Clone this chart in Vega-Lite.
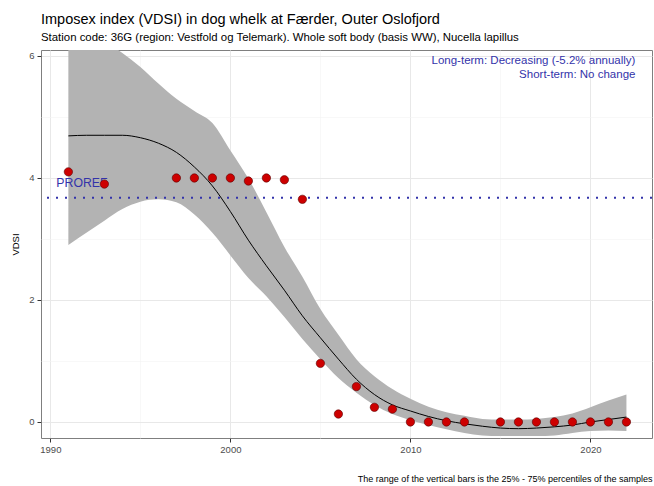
{
  "$schema": "https://vega.github.io/schema/vega-lite/v6.json",
  "width": 611,
  "height": 388,
  "autosize": {"type": "none"},
  "padding": {"left": 41, "top": 50, "right": 2, "bottom": 48},
  "background": "white",
  "title": {
    "text": "Imposex index (VDSI) in dog whelk at Færder, Outer Oslofjord",
    "subtitle": "Station code: 36G (region: Vestfold og Telemark). Whole soft body (basis WW), Nucella lapillus",
    "anchor": "start",
    "frame": "group",
    "dx": 0,
    "offset": 6,
    "font": "Liberation Sans",
    "fontSize": 14.5,
    "fontWeight": "normal",
    "color": "black",
    "subtitleFont": "Liberation Sans",
    "subtitleFontSize": 11.4,
    "subtitleColor": "black",
    "subtitlePadding": 4
  },
  "config": {
    "font": "Liberation Sans",
    "view": {"stroke": "#7f7f7f", "strokeWidth": 1},
    "axis": {
      "domain": false,
      "labelFont": "Liberation Sans",
      "labelFontSize": 9.5,
      "labelColor": "#4D4D4D",
      "tickColor": "#333333",
      "tickSize": 4,
      "labelPadding": 2,
      "titleFont": "Liberation Sans",
      "titleFontWeight": "normal",
      "titleColor": "black"
    }
  },
  "datasets": {
    "points": [
      {"year": 1991, "vdsi": 4.10},
      {"year": 1993, "vdsi": 3.90},
      {"year": 1997, "vdsi": 4.00},
      {"year": 1998, "vdsi": 4.00},
      {"year": 1999, "vdsi": 4.00},
      {"year": 2000, "vdsi": 4.00},
      {"year": 2001, "vdsi": 3.95},
      {"year": 2002, "vdsi": 4.00},
      {"year": 2003, "vdsi": 3.97},
      {"year": 2004, "vdsi": 3.65},
      {"year": 2005, "vdsi": 0.96},
      {"year": 2006, "vdsi": 0.13},
      {"year": 2007, "vdsi": 0.58},
      {"year": 2008, "vdsi": 0.24},
      {"year": 2009, "vdsi": 0.21},
      {"year": 2010, "vdsi": 0},
      {"year": 2011, "vdsi": 0},
      {"year": 2012, "vdsi": 0},
      {"year": 2013, "vdsi": 0},
      {"year": 2015, "vdsi": 0},
      {"year": 2016, "vdsi": 0},
      {"year": 2017, "vdsi": 0},
      {"year": 2018, "vdsi": 0},
      {"year": 2019, "vdsi": 0},
      {"year": 2020, "vdsi": 0},
      {"year": 2021, "vdsi": 0},
      {"year": 2022, "vdsi": 0}
    ],
    "smooth": [
      {"year": 1991, "fit": 4.69, "lo": 2.90, "hi": 6.60},
      {"year": 1992, "fit": 4.70, "lo": 3.10, "hi": 6.50},
      {"year": 1993, "fit": 4.70, "lo": 3.30, "hi": 6.25},
      {"year": 1994, "fit": 4.70, "lo": 3.49, "hi": 6.05},
      {"year": 1995, "fit": 4.66, "lo": 3.61, "hi": 5.82},
      {"year": 1996, "fit": 4.57, "lo": 3.65, "hi": 5.55},
      {"year": 1997, "fit": 4.42, "lo": 3.60, "hi": 5.30},
      {"year": 1998, "fit": 4.18, "lo": 3.40, "hi": 5.10},
      {"year": 1999, "fit": 3.87, "lo": 3.10, "hi": 4.90},
      {"year": 2000, "fit": 3.45, "lo": 2.73, "hi": 4.45},
      {"year": 2001, "fit": 2.98, "lo": 2.36, "hi": 3.99},
      {"year": 2002, "fit": 2.56, "lo": 2.06, "hi": 3.44},
      {"year": 2003, "fit": 2.16, "lo": 1.72, "hi": 2.87},
      {"year": 2004, "fit": 1.74, "lo": 1.36, "hi": 2.38},
      {"year": 2005, "fit": 1.38, "lo": 1.03, "hi": 1.85},
      {"year": 2006, "fit": 1.03, "lo": 0.72, "hi": 1.43},
      {"year": 2007, "fit": 0.70, "lo": 0.48, "hi": 1.03},
      {"year": 2008, "fit": 0.45, "lo": 0.28, "hi": 0.75},
      {"year": 2009, "fit": 0.28, "lo": 0.13, "hi": 0.54},
      {"year": 2010, "fit": 0.18, "lo": 0.03, "hi": 0.38},
      {"year": 2011, "fit": 0.09, "lo": -0.05, "hi": 0.25},
      {"year": 2012, "fit": 0.02, "lo": -0.12, "hi": 0.16},
      {"year": 2013, "fit": -0.03, "lo": -0.18, "hi": 0.10},
      {"year": 2014, "fit": -0.07, "lo": -0.22, "hi": 0.05},
      {"year": 2015, "fit": -0.10, "lo": -0.23, "hi": 0.04},
      {"year": 2016, "fit": -0.11, "lo": -0.23, "hi": 0.04},
      {"year": 2017, "fit": -0.10, "lo": -0.23, "hi": 0.05},
      {"year": 2018, "fit": -0.08, "lo": -0.22, "hi": 0.08},
      {"year": 2019, "fit": -0.05, "lo": -0.18, "hi": 0.14},
      {"year": 2020, "fit": 0.00, "lo": -0.15, "hi": 0.24},
      {"year": 2021, "fit": 0.04, "lo": -0.14, "hi": 0.35},
      {"year": 2022, "fit": 0.08, "lo": -0.15, "hi": 0.45}
    ]
  },
  "layer": [
    {
      "data": {"name": "smooth"},
      "mark": {"type": "area", "color": "#B3B3B3", "opacity": 1, "clip": true, "interpolate": "monotone"},
      "encoding": {
        "x": {
          "field": "year", "type": "quantitative",
          "scale": {"domain": [1989.48, 2023.42], "nice": false, "zero": false},
          "axis": {
            "values": [1990, 1995, 2000, 2005, 2010, 2015, 2020],
            "format": "d",
            "labelExpr": "datum.value % 10 === 0 ? datum.label : ''",
            "gridColor": {"condition": {"test": "datum.value % 10 !== 0", "value": "#F3F3F3"}, "value": "#E8E8E8"},
            "gridWidth": {"condition": {"test": "datum.value % 10 !== 0", "value": 0.6}, "value": 1},
            "tickOpacity": {"condition": {"test": "datum.value % 10 !== 0", "value": 0}, "value": 1},
            "title": "The range of the vertical bars is the 25% - 75% percentiles of the samples",
            "titleAnchor": "end",
            "titleFontSize": 9,
            "titlePadding": 21
          }
        },
        "y": {
          "field": "lo", "type": "quantitative",
          "scale": {"domain": [-0.263, 6.098], "nice": false, "zero": false},
          "axis": {
            "values": [0, 1, 2, 3, 4, 5, 6],
            "format": "d",
            "labelExpr": "datum.value % 2 === 0 ? datum.label : ''",
            "labelPadding": 3,
            "gridColor": {"condition": {"test": "datum.value % 2 !== 0", "value": "#F3F3F3"}, "value": "#E8E8E8"},
            "gridWidth": {"condition": {"test": "datum.value % 2 !== 0", "value": 0.6}, "value": 1},
            "tickOpacity": {"condition": {"test": "datum.value % 2 !== 0", "value": 0}, "value": 1},
            "title": "VDSI",
            "titleFontSize": 9.5,
            "titlePadding": 8
          }
        },
        "y2": {"field": "hi"}
      }
    },
    {
      "data": {"name": "smooth"},
      "mark": {"type": "line", "color": "black", "strokeWidth": 1, "clip": true, "interpolate": "monotone"},
      "encoding": {
        "x": {"field": "year", "type": "quantitative"},
        "y": {"field": "fit", "type": "quantitative"}
      }
    },
    {
      "data": {"values": [{}]},
      "mark": {"type": "rule", "color": "#3333AA", "strokeWidth": 2, "strokeDash": [2, 7]},
      "encoding": {"y": {"datum": 3.675}}
    },
    {
      "data": {"values": [{}]},
      "mark": {"type": "text", "text": "PROREF", "align": "left", "baseline": "middle", "color": "#3333AA", "fontSize": 12.3, "font": "Liberation Sans"},
      "encoding": {"x": {"datum": 1990.33}, "y": {"datum": 3.91}}
    },
    {
      "data": {"name": "points"},
      "mark": {"type": "point", "filled": true, "fill": "#CD0000", "stroke": "#5C0000", "strokeWidth": 0.6, "size": 70, "opacity": 1},
      "encoding": {
        "x": {"field": "year", "type": "quantitative"},
        "y": {"field": "vdsi", "type": "quantitative"}
      }
    },
    {
      "data": {"values": [{}]},
      "mark": {"type": "text", "text": "Long-term: Decreasing (-5.2% annually)", "align": "right", "baseline": "middle", "color": "#3333AA", "fontSize": 11.5, "font": "Liberation Sans"},
      "encoding": {"x": {"datum": 2022.5}, "y": {"datum": 5.91}}
    },
    {
      "data": {"values": [{}]},
      "mark": {"type": "text", "text": "Short-term: No change", "align": "right", "baseline": "middle", "color": "#3333AA", "fontSize": 11.5, "font": "Liberation Sans"},
      "encoding": {"x": {"datum": 2022.5}, "y": {"datum": 5.68}}
    }
  ]
}
